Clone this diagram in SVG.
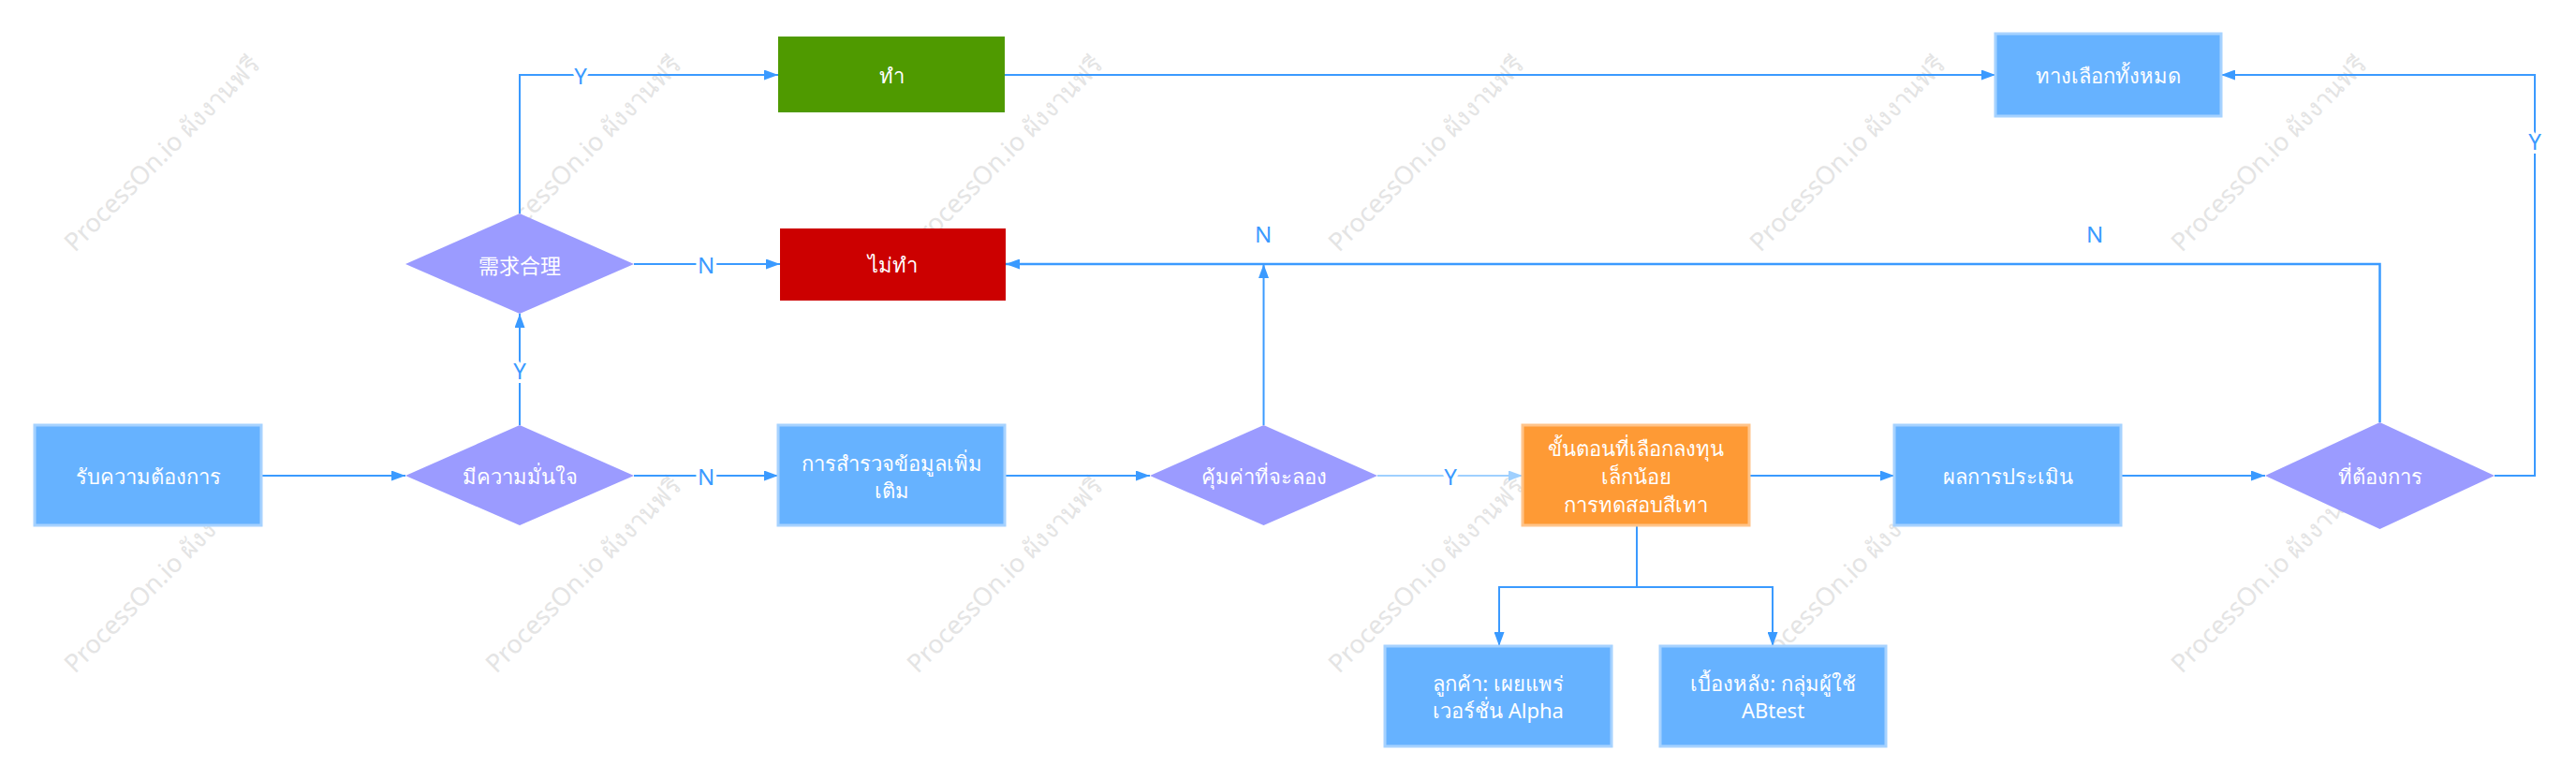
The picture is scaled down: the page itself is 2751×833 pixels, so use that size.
<svg xmlns="http://www.w3.org/2000/svg" width="2751" height="833" viewBox="0 0 2751 833">
<style>
.bg{fill:#ffffff}
.wm{font-family:"Noto Sans","DejaVu Sans",sans-serif;font-size:27px;fill:#e4e4e4}
.box{fill:#66b2ff;stroke:#a6d2ff;stroke-width:3}
.orange{fill:#fe9a35;stroke:#ffc48a;stroke-width:3}
.dia{fill:#9b9bff}
.t{font-family:"Noto Sans","DejaVu Sans",sans-serif;font-size:22px;fill:#ffffff;text-anchor:middle;dominant-baseline:central}
.c{fill:none;stroke:#3a9aff;stroke-width:2}
.cl{fill:none;stroke:#9fd0ff;stroke-width:2}
.lbl{font-family:"Noto Sans","Liberation Sans",sans-serif;font-size:24px;fill:#3a9aff;text-anchor:middle;dominant-baseline:central;stroke:#ffffff;stroke-width:8;paint-order:stroke}
</style>
<defs>
<marker id="ah" markerUnits="userSpaceOnUse" markerWidth="15" markerHeight="11" refX="15" refY="5.5" orient="auto">
<path d="M0,0 L15,5.5 L0,11 z" fill="#3a9aff"/>
</marker>
<marker id="ahl" markerUnits="userSpaceOnUse" markerWidth="15" markerHeight="11" refX="15" refY="5.5" orient="auto">
<path d="M0,0 L15,5.5 L0,11 z" fill="#9fd0ff"/>
</marker>
</defs>
<rect class="bg" x="0" y="0" width="2751" height="833"/>
<g id="watermarks">
<text class="wm" transform="translate(80,270) rotate(-45)">ProcessOn.io ผังงานฟรี</text>
<text class="wm" transform="translate(530,270) rotate(-45)">ProcessOn.io ผังงานฟรี</text>
<text class="wm" transform="translate(980,270) rotate(-45)">ProcessOn.io ผังงานฟรี</text>
<text class="wm" transform="translate(1430,270) rotate(-45)">ProcessOn.io ผังงานฟรี</text>
<text class="wm" transform="translate(1880,270) rotate(-45)">ProcessOn.io ผังงานฟรี</text>
<text class="wm" transform="translate(2330,270) rotate(-45)">ProcessOn.io ผังงานฟรี</text>
<text class="wm" transform="translate(80,720) rotate(-45)">ProcessOn.io ผังงานฟรี</text>
<text class="wm" transform="translate(530,720) rotate(-45)">ProcessOn.io ผังงานฟรี</text>
<text class="wm" transform="translate(980,720) rotate(-45)">ProcessOn.io ผังงานฟรี</text>
<text class="wm" transform="translate(1430,720) rotate(-45)">ProcessOn.io ผังงานฟรี</text>
<text class="wm" transform="translate(1880,720) rotate(-45)">ProcessOn.io ผังงานฟรี</text>
<text class="wm" transform="translate(2330,720) rotate(-45)">ProcessOn.io ผังงานฟรี</text>
</g>
<g id="connectors">
<path class="c" d="M279,508 H433" marker-end="url(#ah)"/>
<path class="c" d="M677,508 H831" marker-end="url(#ah)"/>
<path class="c" d="M555,454 V335" marker-end="url(#ah)"/>
<path class="c" d="M677,282 H833" marker-end="url(#ah)"/>
<path class="c" d="M555,228 V80 H831" marker-end="url(#ah)"/>
<path class="c" d="M1073,80 H2131" marker-end="url(#ah)"/>
<path class="c" d="M1073,508 H1228" marker-end="url(#ah)"/>
<path class="c" d="M1349.5,454 V282" marker-end="url(#ah)"/>
<path class="c" d="M2541.5,451 V282 H1074" marker-end="url(#ah)" style="stroke-width:2.5"/>
<path class="cl" d="M1471,508 H1626" marker-end="url(#ahl)"/>
<path class="c" d="M1868,508 H2023" marker-end="url(#ah)"/>
<path class="c" d="M2265,508 H2419" marker-end="url(#ah)"/>
<path class="c" d="M2664,508 H2707 V80 H2372" marker-end="url(#ah)"/>
<path class="c" d="M1748,562 V627 H1601 V690" marker-end="url(#ah)"/>
<path class="c" d="M1748,627 H1893 V690" marker-end="url(#ah)"/>
<text class="lbl" x="754" y="508">N</text>
<text class="lbl" x="555" y="395">Y</text>
<text class="lbl" x="754" y="282">N</text>
<text class="lbl" x="620" y="80">Y</text>
<text class="lbl" x="1349" y="249">N</text>
<text class="lbl" x="2237" y="249">N</text>
<text class="lbl" x="1549" y="508">Y</text>
<text class="lbl" x="2707" y="150">Y</text>
</g>
<g id="n-receive"><rect class="box" x="37" y="454" width="242" height="107"/><text class="t" x="158" y="508">รับความต้องการ</text></g>
<g id="d-confident"><polygon class="dia" points="433,508 555,454 677,508 555,561"/><text class="t" x="555" y="508">มีความมั่นใจ</text></g>
<g id="d-reasonable"><polygon class="dia" points="433,282 555,228 677,282 555,335"/><text class="t" x="555" y="282" style="font-family:'Noto Sans CJK SC',sans-serif">需求合理</text></g>
<g id="n-do"><rect x="831" y="39" width="242" height="81" fill="#4f9a00"/><text class="t" x="952" y="80">ทำ</text></g>
<g id="n-dont"><rect x="833" y="244" width="241" height="77" fill="#cc0000"/><text class="t" x="953" y="282">ไม่ทำ</text></g>
<g id="n-survey"><rect class="box" x="831" y="454" width="242" height="107"/><text class="t" x="952" y="494">การสำรวจข้อมูลเพิ่ม</text><text class="t" x="952" y="523">เติม</text></g>
<g id="d-worth"><polygon class="dia" points="1228,508 1349.5,454 1471,508 1349.5,561"/><text class="t" x="1349.5" y="508">คุ้มค่าที่จะลอง</text></g>
<g id="n-step"><rect class="orange" x="1626" y="454" width="242" height="107"/><text class="t" x="1747" y="478">ขั้นตอนที่เลือกลงทุน</text><text class="t" x="1747" y="508">เล็กน้อย</text><text class="t" x="1747" y="538">การทดสอบสีเทา</text></g>
<g id="n-eval"><rect class="box" x="2023" y="454" width="242" height="107"/><text class="t" x="2144" y="508">ผลการประเมิน</text></g>
<g id="d-wanted"><polygon class="dia" points="2419,508 2541.5,451 2664,508 2541.5,565"/><text class="t" x="2541.5" y="508">ที่ต้องการ</text></g>
<g id="n-all"><rect class="box" x="2131" y="36" width="241" height="88"/><text class="t" x="2251.5" y="80">ทางเลือกทั้งหมด</text></g>
<g id="n-customer"><rect class="box" x="1479" y="690" width="242" height="107"/><text class="t" x="1600" y="729">ลูกค้า: เผยแพร่</text><text class="t" x="1600" y="758">เวอร์ชั่น Alpha</text></g>
<g id="n-backend"><rect class="box" x="1773" y="690" width="241" height="107"/><text class="t" x="1893.5" y="729">เบื้องหลัง: กลุ่มผู้ใช้</text><text class="t" x="1893.5" y="758">ABtest</text></g>
</svg>
